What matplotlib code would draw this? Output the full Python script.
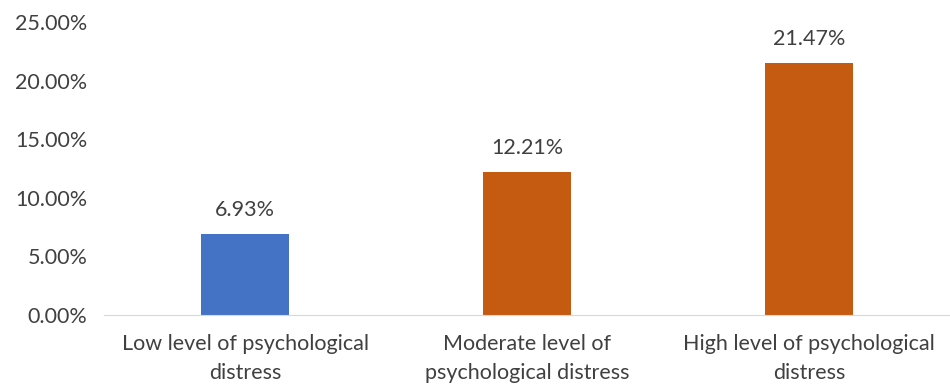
import matplotlib
matplotlib.use('Agg')
import matplotlib.pyplot as plt
from matplotlib.ticker import FuncFormatter

categories = ["Low level of psychological\ndistress",
              "Moderate level of\npsychological distress",
              "High level of psychological\ndistress"]
values = [6.93, 12.21, 21.47]
bar_colors = ["#4472C4", "#C55A11", "#C55A11"]
yticks = [0, 5, 10, 15, 20, 25]

plt.rcParams['font.family'] = ['Lato', 'DejaVu Sans']

fig = plt.figure(figsize=(9.5, 3.85), dpi=100)
ax = fig.add_axes([104/950, 1-315/385, 1-104/950, (315-22)/385])

x = range(len(categories))
bars = ax.bar(x, values, width=0.31, color=bar_colors)
for xi, v in zip(x, values):
    ax.text(xi, v + 1.2, f"{v:.2f}%", ha='center', va='bottom',
            fontsize=15.5, color='#404040')

ax.set_xlim(-0.5, 2.5)
ax.set_ylim(0, 25)
ax.set_yticks(yticks)
ax.yaxis.set_major_formatter(FuncFormatter(lambda v, p: f"{v:.2f}%"))
ax.set_xticks(list(x))
ax.set_xticklabels(categories, linespacing=1.55)
ax.tick_params(axis='both', length=0, labelsize=15.5, labelcolor='#404040')
ax.tick_params(axis='x', pad=14)
ax.tick_params(axis='y', pad=12)
for s in ['top', 'right', 'left']:
    ax.spines[s].set_visible(False)
ax.spines['bottom'].set_color('#D9D9D9')

fig.savefig('out.png', dpi=100)
